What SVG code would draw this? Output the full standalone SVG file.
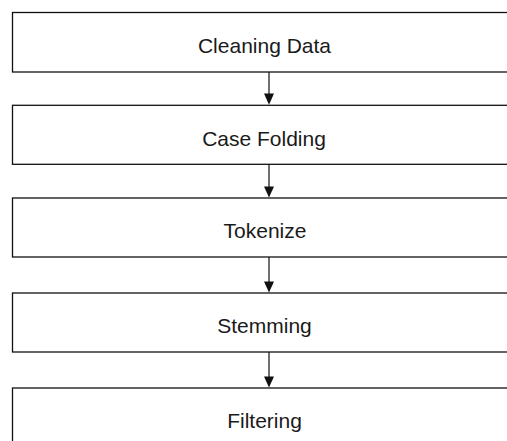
<svg xmlns="http://www.w3.org/2000/svg" width="507" height="441" viewBox="0 0 507 441">
<defs>
<style>
.box{fill:#fff;stroke:#111;stroke-width:1.3}
.lbl{font-family:"Liberation Sans",Arial,sans-serif;font-size:21px;fill:#1a1a1a;text-anchor:middle}
.con{stroke:#111;stroke-width:1.2;fill:none}
</style>
<marker id="ah" markerWidth="10" markerHeight="12" refX="5" refY="11" orient="auto-start-reverse" markerUnits="userSpaceOnUse" viewBox="0 0 10 12">
<path d="M0,0 L10,0 L5,11 Z" fill="#111" transform="rotate(0)"/>
</marker>
</defs>
<rect width="507" height="441" fill="#fff"/>
<g id="n1"><rect class="box" x="12.5" y="12.5" width="510" height="59.5"/><text class="lbl" x="264.5" y="52.7">Cleaning Data</text></g>
<g id="n2"><rect class="box" x="12.5" y="105.3" width="510" height="59"/><text class="lbl" x="264" y="145.5">Case Folding</text></g>
<g id="n3"><rect class="box" x="12.5" y="198" width="510" height="59"/><text class="lbl" x="265" y="237.5">Tokenize</text></g>
<g id="n4"><rect class="box" x="12.5" y="293" width="510" height="59"/><text class="lbl" x="264.5" y="332.5">Stemming</text></g>
<g id="n5"><rect class="box" x="12.5" y="388" width="510" height="70"/><text class="lbl" x="264.5" y="427.5">Filtering</text></g>
<g id="connectors">
<line class="con" x1="269" y1="72" x2="269" y2="94"/><path d="M264,93.5 L274,93.5 L269,104.8 Z" fill="#111"/>
<line class="con" x1="269" y1="164.3" x2="269" y2="187"/><path d="M264,186.5 L274,186.5 L269,197.5 Z" fill="#111"/>
<line class="con" x1="269" y1="257" x2="269" y2="282"/><path d="M264,281.5 L274,281.5 L269,292.5 Z" fill="#111"/>
<line class="con" x1="269" y1="352" x2="269" y2="377"/><path d="M264,376.5 L274,376.5 L269,387.5 Z" fill="#111"/>
</g>
</svg>
